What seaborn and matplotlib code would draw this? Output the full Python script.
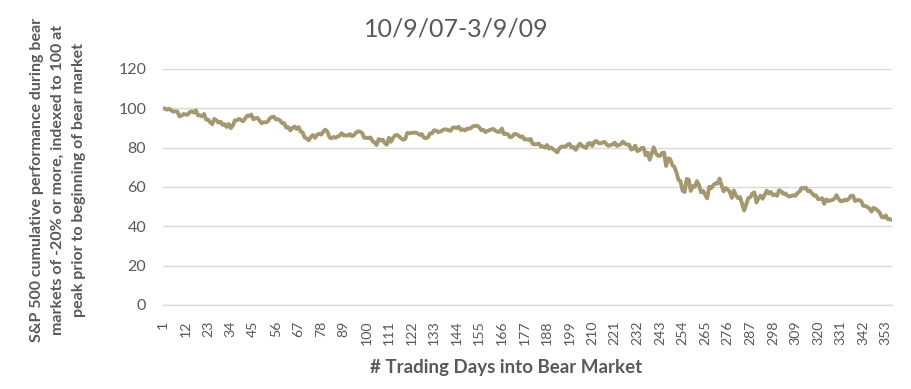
import numpy as np
import pandas as pd
import matplotlib
matplotlib.use("Agg")
import matplotlib.pyplot as plt
import seaborn as sns

# S&P 500 daily closes, 10/9/07 - 3/9/09 (read/estimated)
closes = [
    # Oct 2007
    1565.15, 1562.47, 1554.41, 1561.80, 1548.71, 1538.53, 1541.24, 1540.08, 1500.63,
    1506.33, 1519.59, 1515.88, 1514.40, 1535.28, 1540.98, 1531.02, 1549.38,
    # Nov 2007
    1508.44, 1509.65, 1502.17, 1520.27, 1475.62, 1474.77, 1453.70, 1439.18, 1481.05,
    1470.58, 1451.15, 1458.74, 1433.27, 1439.70, 1416.77, 1440.70, 1407.22, 1428.23,
    1469.02, 1469.72, 1481.14,
    # Dec 2007
    1472.42, 1462.79, 1485.01, 1507.34, 1504.66, 1515.96, 1477.65, 1486.59, 1488.41,
    1467.95, 1445.90, 1454.98, 1453.00, 1460.12, 1484.46, 1496.45, 1497.66, 1476.27,
    1478.49, 1468.36,
    # Jan 2008
    1447.16, 1447.16, 1411.63, 1416.18, 1390.19, 1409.13, 1420.33, 1401.02, 1416.25,
    1380.95, 1373.20, 1333.25, 1325.19, 1310.50, 1338.60, 1352.07, 1330.61, 1353.96,
    1362.30, 1355.81, 1378.55,
    # Feb 2008
    1395.42, 1380.82, 1336.64, 1326.45, 1336.91, 1331.29, 1339.13, 1348.86, 1367.21,
    1348.86, 1349.99, 1348.78, 1360.03, 1342.53, 1353.11, 1371.80, 1381.29, 1380.02,
    1367.68, 1330.63,
    # Mar 2008
    1331.34, 1326.75, 1333.70, 1304.34, 1293.37, 1273.37, 1320.65, 1308.77, 1315.48,
    1288.14, 1276.60, 1330.74, 1298.42, 1329.51, 1349.88, 1352.99, 1341.13, 1325.76,
    1315.22, 1322.70,
    # Apr 2008
    1370.18, 1367.53, 1369.31, 1370.40, 1372.54, 1365.54, 1354.49, 1360.55, 1332.83,
    1328.32, 1334.43, 1364.71, 1365.56, 1390.33, 1388.17, 1375.94, 1379.93, 1388.82,
    1397.84, 1396.37, 1390.94, 1385.59,
    # May 2008
    1409.34, 1413.90, 1407.49, 1418.26, 1392.57, 1397.68, 1388.28, 1403.58, 1403.04,
    1408.66, 1423.57, 1425.35, 1426.63, 1413.40, 1390.71, 1394.35, 1375.93, 1385.35,
    1390.84, 1398.26, 1400.38,
    # Jun 2008
    1385.67, 1377.65, 1377.20, 1404.05, 1360.68, 1361.76, 1358.44, 1335.49, 1339.87,
    1360.03, 1360.14, 1350.93, 1337.81, 1342.83, 1317.93, 1318.00, 1314.29, 1321.97,
    1283.15, 1278.38, 1280.00,
    # Jul 2008
    1284.91, 1261.52, 1262.90, 1252.31, 1273.70, 1244.69, 1253.39, 1239.49, 1228.30,
    1214.91, 1245.36, 1260.32, 1260.68, 1260.00, 1277.00, 1282.19, 1252.54, 1257.76,
    1234.37, 1263.20, 1284.26, 1267.38,
    # Aug 2008
    1260.31, 1249.01, 1284.88, 1289.19, 1266.07, 1296.32, 1305.32, 1289.59, 1285.83,
    1292.93, 1298.20, 1278.60, 1266.69, 1274.54, 1277.72, 1292.20, 1266.84, 1271.51,
    1281.66, 1300.68, 1282.83,
    # Sep 2008
    1277.58, 1274.98, 1236.83, 1242.31, 1267.79, 1224.51, 1232.04, 1249.05, 1251.70,
    1192.70, 1213.60, 1156.39, 1206.51, 1255.08, 1207.09, 1188.22, 1185.87, 1209.18,
    1213.27, 1106.39, 1166.36,
    # Oct 2008
    1161.06, 1114.28, 1099.23, 1056.89, 996.23, 984.94, 909.92, 899.22, 1003.35,
    998.01, 907.84, 946.43, 940.55, 985.40, 955.05, 896.78, 908.11, 876.77,
    848.92, 940.51, 930.09, 954.09, 968.75,
    # Nov 2008
    966.30, 1005.75, 952.77, 904.88, 930.99, 919.21, 898.95, 852.30, 911.29,
    873.29, 850.75, 859.12, 806.58, 752.44, 800.03, 851.81, 857.39, 887.68, 896.24,
    # Dec 2008
    816.21, 848.81, 870.74, 845.22, 876.07, 909.70, 888.67, 899.24, 873.59,
    879.73, 868.57, 913.18, 904.42, 885.28, 887.88, 871.63, 863.16, 868.15,
    872.80, 869.42, 890.64, 903.25,
    # Jan 2009
    931.80, 927.45, 934.70, 906.65, 909.73, 890.35, 870.26, 871.79, 842.62,
    843.74, 850.12, 805.22, 840.24, 827.50, 831.95, 836.57, 845.71, 874.09,
    845.14, 825.88,
    # Feb 2009
    825.44, 838.51, 832.23, 845.85, 868.60, 869.89, 827.16, 833.74, 835.19,
    826.84, 789.17, 788.42, 778.94, 770.05, 743.33, 773.14, 764.90, 752.83, 735.09,
    # Mar 2009
    700.82, 696.33, 712.87, 682.55, 683.38, 676.53,
]

title_text = "10/9/07-3/9/09"
x_label = "# Trading Days into Bear Market"
y_label = ("S&P 500 cumulative performance during bear\n"
           "markets of -20% or more, indexed to 100 at\n"
           "peak prior to beginning of bear market")
y_ticks = [0, 20, 40, 60, 80, 100, 120]

n_days = len(closes)
days = list(range(1, n_days + 1))
indexed = [c / closes[0] * 100 for c in closes]
df = pd.DataFrame({"pos": [d - 1 for d in days], "day": days, "value": indexed})

sns.set_theme(style="white")
plt.rcParams["font.family"] = ["Lato", "DejaVu Sans"]

gray_text = "#595959"
grid_col = "#D9D9D9"
line_col = "#A49870"

fig = plt.figure(figsize=(9.11, 3.89), dpi=100)
ax = fig.add_axes([163 / 911, 1 - 305 / 389, (892 - 163) / 911, (305 - 69) / 389])

sns.lineplot(data=df, x="pos", y="value", ax=ax, color=line_col, linewidth=2.8)

ax.set_xlim(0, n_days - 1)
ax.set_ylim(0, 120)
ax.set_yticks(y_ticks)
ax.set_yticklabels([str(t) for t in y_ticks])
xt = [d - 1 for d in days[::11]]
ax.set_xticks(xt)
ax.set_xticklabels([str(d) for d in days[::11]], rotation=90, va="top", ha="center")

ax.grid(axis="y", color=grid_col, linewidth=1.0)
ax.grid(axis="x", visible=False)
ax.set_axisbelow(True)
for s in ["top", "right", "left"]:
    ax.spines[s].set_visible(False)
ax.spines["bottom"].set_color(grid_col)
ax.spines["bottom"].set_linewidth(1.0)
ax.tick_params(axis="both", length=0, colors=gray_text)
ax.tick_params(axis="y", labelsize=11.5, pad=12)
ax.tick_params(axis="x", labelsize=10.2, pad=11)
ax.set_xlabel("")
ax.set_ylabel("")

fig.text(456 / 911, 1 - 29 / 389, title_text, ha="center", va="center",
         fontsize=18, color=gray_text)
fig.text(506 / 911, 1 - 368 / 389, x_label, ha="center", va="center",
         fontsize=13.5, fontweight="bold", color=gray_text)
fig.text(58 / 911, 1 - 180 / 389, y_label, ha="center", va="center", rotation=90,
         multialignment="center", fontsize=11.5, fontweight="bold", color=gray_text,
         linespacing=1.6)

fig.savefig("out.png", dpi=100, facecolor="white")
